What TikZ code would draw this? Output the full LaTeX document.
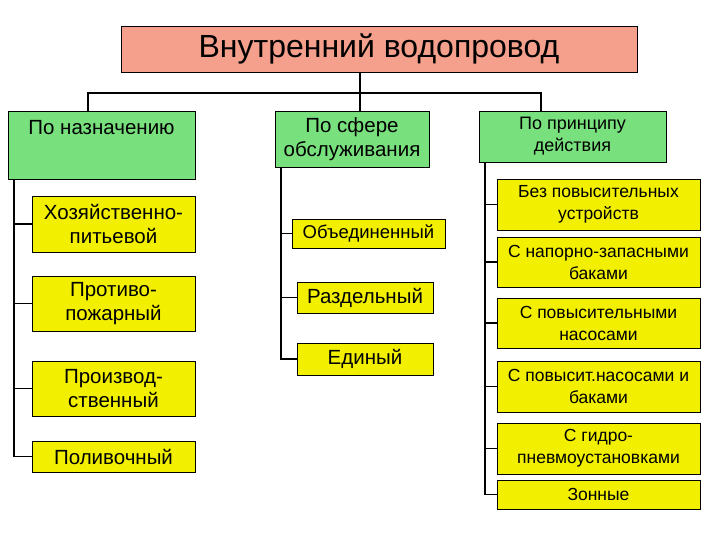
\documentclass[tikz,border=0pt]{standalone}
\usepackage{fontspec}
\setmainfont{Liberation Sans}
\usepackage{xcolor}
\definecolor{titlered}{RGB}{245,160,140}
\definecolor{catgreen}{RGB}{120,224,124}
\definecolor{itemyellow}{RGB}{242,240,0}
\tikzset{
    titlebox/.style={draw=black,line width=0.8pt,fill=titlered,inner sep=0pt,
        minimum width=516pt,minimum height=46pt,font=\fontsize{32}{38}\selectfont},
    catbox/.style={draw=black,line width=0.8pt,fill=catgreen,inner sep=0pt,align=center,
        font=\fontsize{18}{22}\selectfont},
    itembox/.style={draw=black,line width=0.8pt,fill=itemyellow,inner sep=0pt,align=center,
        font=\fontsize{17.5}{22}\selectfont},
    largetext/.style={font=\fontsize{20.5}{24}\selectfont},
    conn/.style={draw=black,line width=1.8pt}
}

\begin{document}
\begin{tikzpicture}[x=1pt,y=-1pt]
    \useasboundingbox (0,0) rectangle (720,540);
    \node[titlebox] (vod) at (379,49) {Внутренний водопровод};

    \node[catbox,largetext,minimum width=187pt,anchor=north,text height=23pt,text depth=45pt] (naz) at (101.5,111) {По назначению};
    \node[catbox,largetext,minimum width=154pt,minimum height=56pt] (sfera) at (352,139) {По сфере\\обслуживания};
    \node[catbox,minimum width=187pt,minimum height=51pt] (prin) at (572.5,136.5) {По принципу\\действия};

    \coordinate (bus) at (360,93);
    \draw[conn] (vod.south -| bus)--(sfera.north -| bus);
    \draw[conn] ([xshift=-13.5]naz.north) |- (bus) -| ([xshift=-31.5]prin.north);

    \node[itembox,largetext,minimum width=163pt,minimum height=56pt] (hoz) at (113.5,224) {Хозяйственно-\\питьевой};
    \node[itembox,largetext,minimum width=163pt,minimum height=55pt] (prot) at (113.5,303.5) {Противо-\\пожарный};
    \node[itembox,largetext,minimum width=163pt,minimum height=55pt] (proiz) at (113.5,388.5) {Производ-\\ственный};
    \node[itembox,largetext,minimum width=163pt,minimum height=31pt] (poliv) at (113.5,456.5) {Поливочный};
    \foreach \n in {hoz,prot,proiz,poliv}
    {
        \draw[conn] ([xshift=6]naz.south west) |- (\n.west);
    }

    \node[itembox,minimum width=153pt,minimum height=29pt,font=\fontsize{18.5}{22}\selectfont] (obed) at (368.5,233.5) {Объединенный};
    \node[itembox,largetext,minimum width=136pt,minimum height=31pt] (razd) at (365,297.5) {Раздельный};
    \node[itembox,largetext,minimum width=136pt,minimum height=32pt] (edin) at (365,359) {Единый};
    \foreach \n in {obed,razd,edin}
    {
        \draw[conn] ([xshift=6]sfera.south west) |- (\n.west);
    }

    \node[itembox,minimum width=203pt,minimum height=51pt] (bez) at (598.5,204.5) {Без повысительных\\устройств};
    \node[itembox,minimum width=203pt,minimum height=50pt] (bak) at (598.5,262) {С напорно-запасными\\баками};
    \node[itembox,minimum width=203pt,minimum height=50pt] (nas) at (598.5,323) {С повысительными\\насосами};
    \node[itembox,minimum width=203pt,minimum height=51pt] (nasbak) at (598.5,386.5) {С повысит.насосами и\\баками};
    \node[itembox,minimum width=203pt,minimum height=51pt] (gidro) at (598.5,448.5) {С гидро-\\пневмоустановками};
    \node[itembox,minimum width=203pt,minimum height=29pt] (zon) at (598.5,494.5) {Зонные};
    \foreach \n in {bez,bak,nas,nasbak,gidro,zon}
    {
        \draw[conn] ([xshift=6]prin.south west) |- (\n.west);
    }
\end{tikzpicture}
\end{document}
